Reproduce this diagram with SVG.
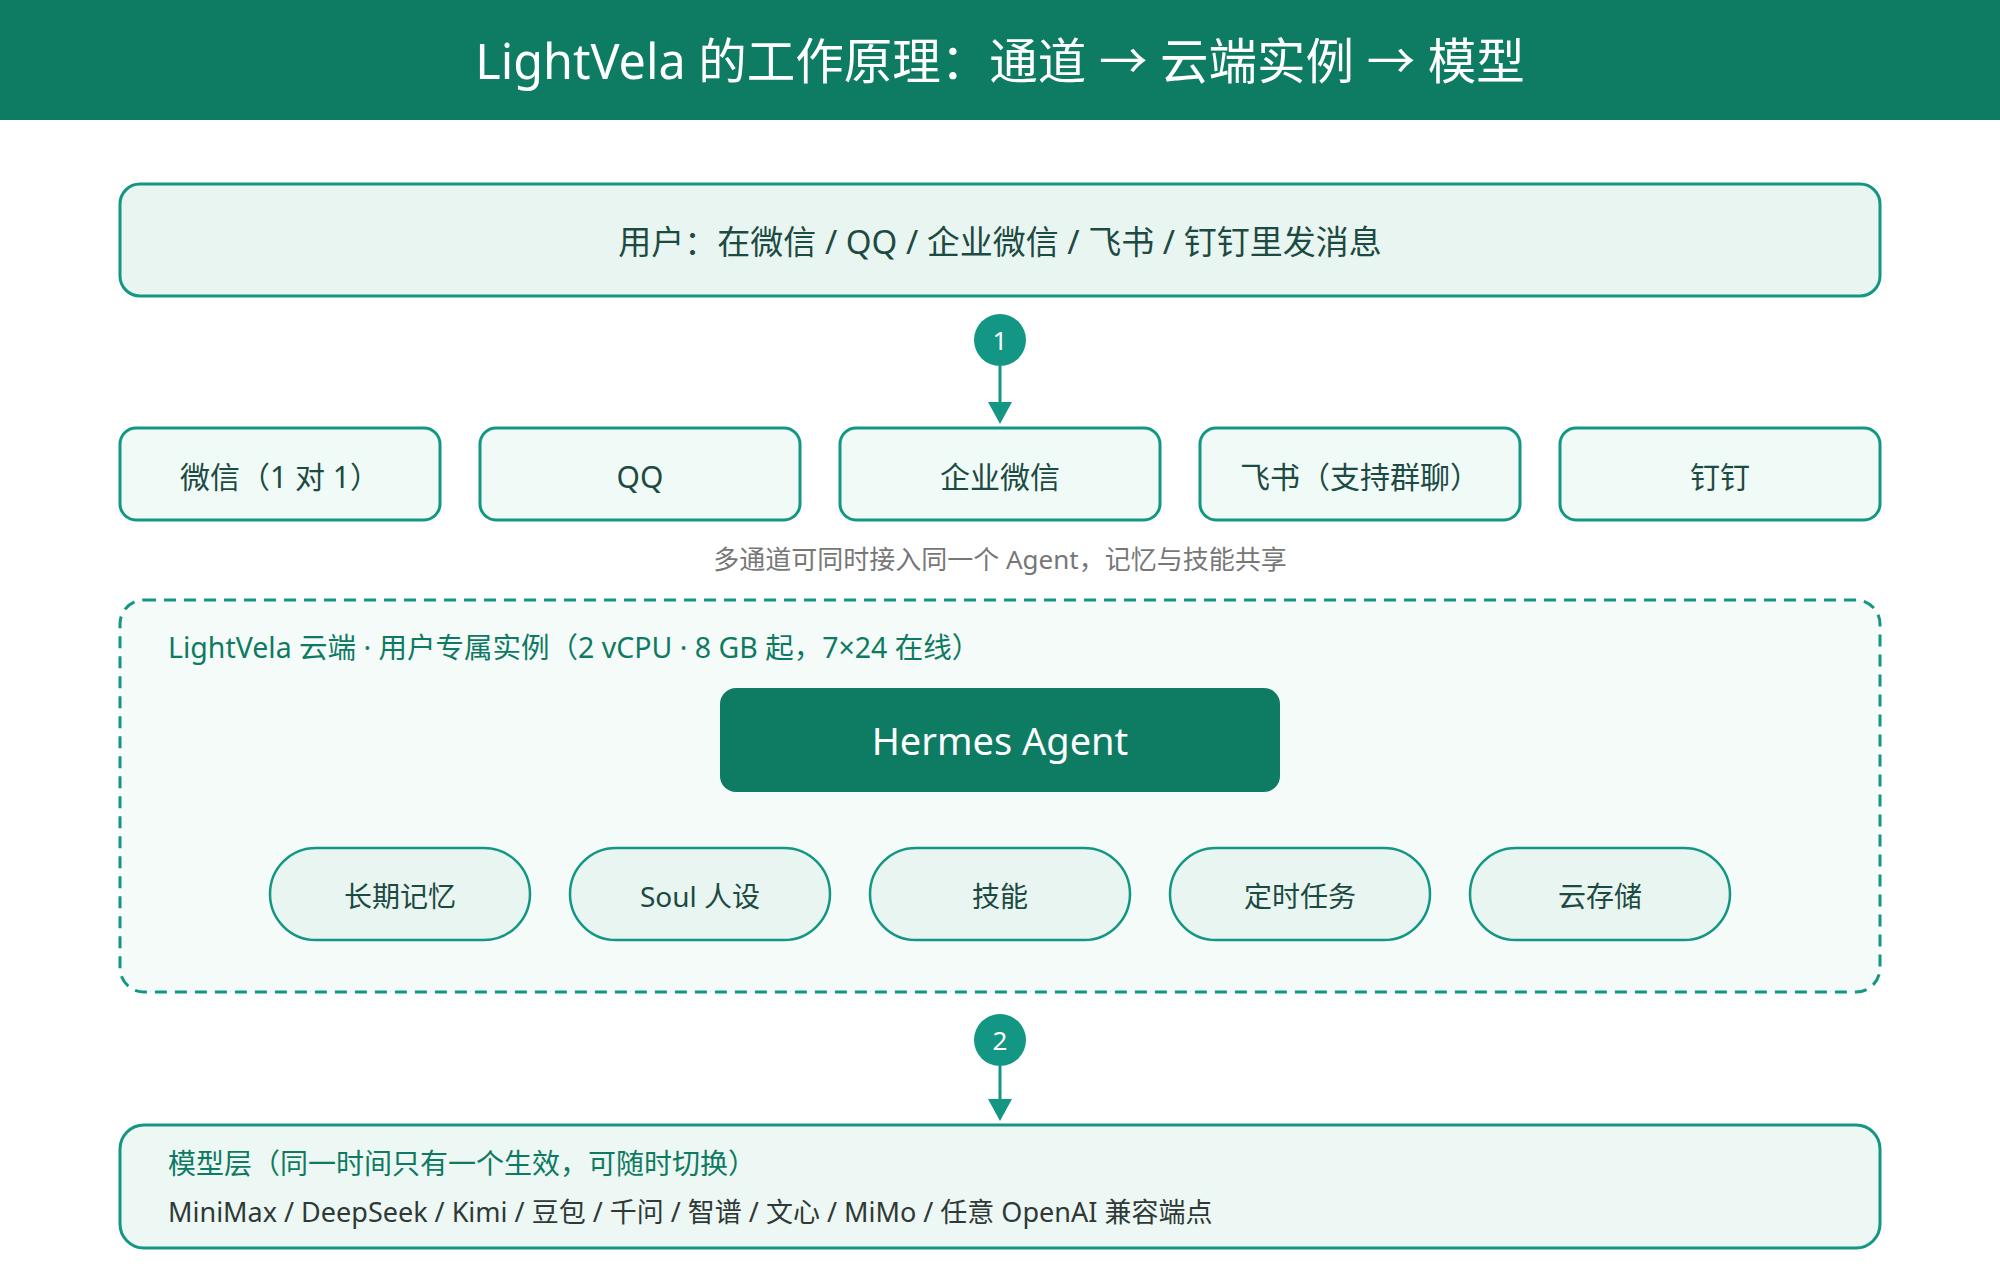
<svg xmlns="http://www.w3.org/2000/svg" width="2000" height="1280" viewBox="0 0 2000 1280">
<defs>
<style>
text{font-family:"Noto Sans","Noto Sans CJK SC",sans-serif;}
.title{font-size:48.5px;fill:#ffffff;}
.box{fill:#e8f5f0;stroke:#139683;stroke-width:3;}
.chan{fill:#f0faf7;stroke:#139683;stroke-width:3;}
.pill{fill:#e8f5f0;stroke:#139683;stroke-width:2.5;}
.node{font-size:30px;fill:#1d4a42;}
.usertxt{font-size:33px;fill:#1d4a42;}
.pilltxt{font-size:28px;fill:#1d4a42;}
.cap{font-size:26px;fill:#777777;}
.lbl{font-size:28.5px;fill:#0e7a62;}
.lbl2{font-size:28px;fill:#0e7a62;}
.models{font-size:27px;fill:#2f3a38;}
.badge{fill:#139683;}
.badgetxt{font-size:26px;fill:#ffffff;}
.conn{stroke:#139683;stroke-width:3;fill:none;}
</style>
</defs>
<rect x="0" y="0" width="2000" height="1280" fill="#ffffff"/>
<g id="header">
<rect x="0" y="0" width="2000" height="120" fill="#0e7b63"/>
<text class="title" x="1000" y="60" text-anchor="middle" dominant-baseline="central">LightVela 的工作原理：通道 → 云端实例 → 模型</text>
</g>
<g id="user">
<rect class="box" x="120" y="184" width="1760" height="112" rx="20"/>
<text class="usertxt" x="1000" y="241" text-anchor="middle" dominant-baseline="central">用户：在微信 / QQ / 企业微信 / 飞书 / 钉钉里发消息</text>
</g>
<g id="connectors">
<circle class="badge" cx="1000" cy="340" r="26"/>
<text class="badgetxt" x="1000" y="340" text-anchor="middle" dominant-baseline="central">1</text>
<line class="conn" x1="1000" y1="366" x2="1000" y2="402"/>
<path d="M988,402 L1012,402 L1000,424 Z" fill="#139683"/>
<circle class="badge" cx="1000" cy="1040" r="26"/>
<text class="badgetxt" x="1000" y="1040" text-anchor="middle" dominant-baseline="central">2</text>
<line class="conn" x1="1000" y1="1066" x2="1000" y2="1100"/>
<path d="M988,1099 L1012,1099 L1000,1121 Z" fill="#139683"/>
</g>
<g id="ch-wechat">
<rect class="chan" x="120" y="428" width="320" height="92" rx="16"/>
<text class="node" x="280" y="476" text-anchor="middle" dominant-baseline="central">微信（1 对 1）</text>
</g>
<g id="ch-qq">
<rect class="chan" x="480" y="428" width="320" height="92" rx="16"/>
<text class="node" x="640" y="476" text-anchor="middle" dominant-baseline="central">QQ</text>
</g>
<g id="ch-wecom">
<rect class="chan" x="840" y="428" width="320" height="92" rx="16"/>
<text class="node" x="1000" y="476" text-anchor="middle" dominant-baseline="central">企业微信</text>
</g>
<g id="ch-feishu">
<rect class="chan" x="1200" y="428" width="320" height="92" rx="16"/>
<text class="node" x="1360" y="476" text-anchor="middle" dominant-baseline="central">飞书（支持群聊）</text>
</g>
<g id="ch-dingtalk">
<rect class="chan" x="1560" y="428" width="320" height="92" rx="16"/>
<text class="node" x="1720" y="476" text-anchor="middle" dominant-baseline="central">钉钉</text>
</g>
<g id="caption">
<text class="cap" x="1000" y="559" text-anchor="middle" dominant-baseline="central">多通道可同时接入同一个 Agent，记忆与技能共享</text>
</g>
<g id="cloud">
<rect x="120" y="600" width="1760" height="392" rx="24" fill="#f5fbf9" stroke="#139683" stroke-width="3" stroke-dasharray="12 8"/>
<text class="lbl" x="168" y="647" dominant-baseline="central">LightVela 云端 · 用户专属实例（2 vCPU · 8 GB 起，7×24 在线）</text>
</g>
<g id="hermes">
<rect x="720" y="688" width="560" height="104" rx="16" fill="#0e7b63"/>
<text x="1000" y="740" text-anchor="middle" dominant-baseline="central" style="font-size:38px;fill:#ffffff">Hermes Agent</text>
</g>
<g id="memory">
<rect class="pill" x="270" y="848" width="260" height="92" rx="46"/>
<text class="pilltxt" x="400" y="896" text-anchor="middle" dominant-baseline="central">长期记忆</text>
</g>
<g id="soul">
<rect class="pill" x="570" y="848" width="260" height="92" rx="46"/>
<text class="pilltxt" x="700" y="896" text-anchor="middle" dominant-baseline="central">Soul 人设</text>
</g>
<g id="skills">
<rect class="pill" x="870" y="848" width="260" height="92" rx="46"/>
<text class="pilltxt" x="1000" y="896" text-anchor="middle" dominant-baseline="central">技能</text>
</g>
<g id="cron">
<rect class="pill" x="1170" y="848" width="260" height="92" rx="46"/>
<text class="pilltxt" x="1300" y="896" text-anchor="middle" dominant-baseline="central">定时任务</text>
</g>
<g id="storage">
<rect class="pill" x="1470" y="848" width="260" height="92" rx="46"/>
<text class="pilltxt" x="1600" y="896" text-anchor="middle" dominant-baseline="central">云存储</text>
</g>
<g id="models">
<rect x="120" y="1125" width="1760" height="123" rx="24" fill="#edf7f3" stroke="#139683" stroke-width="3"/>
<text class="lbl2" x="168" y="1163" dominant-baseline="central">模型层（同一时间只有一个生效，可随时切换）</text>
<text class="models" x="168" y="1211" dominant-baseline="central">MiniMax / DeepSeek / Kimi / 豆包 / 千问 / 智谱 / 文心 / MiMo / 任意 OpenAI 兼容端点</text>
</g>
</svg>
